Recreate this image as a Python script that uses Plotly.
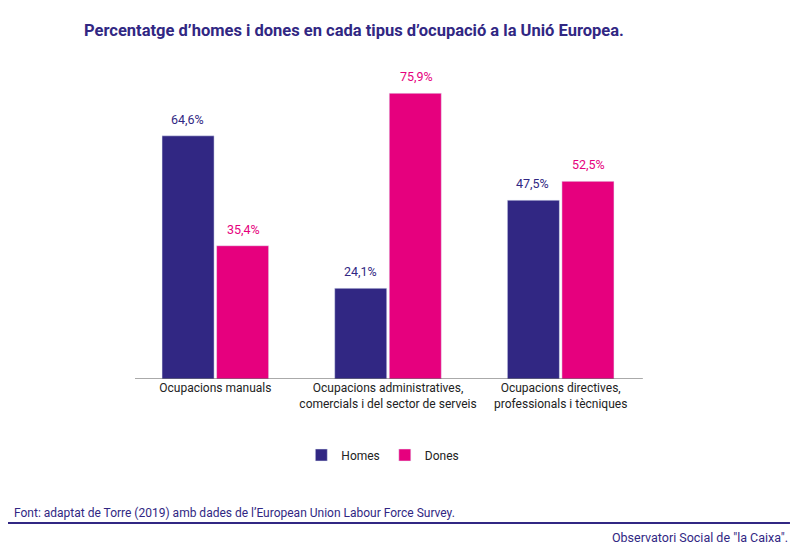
import plotly.graph_objects as go

categories = [
    "Ocupacions manuals",
    "Ocupacions administratives,<br>comercials i del sector de serveis",
    "Ocupacions directives,<br>professionals i tècniques",
]
homes = [64.6, 24.1, 47.5]
dones = [35.4, 75.9, 52.5]

INDIGO = "#312783"
PINK = "#e6007e"
FONT = "Roboto"


def pct(v):
    return f"{v:.1f}%".replace(".", ",")


fig = go.Figure()
fig.add_trace(go.Bar(x=categories, y=homes, name="Homes", marker_color=INDIGO))
fig.add_trace(go.Bar(x=categories, y=dones, name="Dones", marker_color=PINK))

# value labels above each bar
for vals, color, shift in [(homes, INDIGO, -28), (dones, PINK, 28)]:
    for cat, v in zip(categories, vals):
        fig.add_annotation(
            x=cat, y=v, text=pct(v), showarrow=False,
            xshift=shift, yshift=7, yanchor="bottom",
            font=dict(family=FONT, size=12.5, color=color),
        )

# baseline (shorter than the category band)
fig.add_shape(
    type="line", xref="paper", yref="y", x0=0.0116, x1=0.992, y0=0, y1=0,
    line=dict(color="#555555", width=1),
)

# title and footer
fig.add_annotation(
    xref="paper", yref="paper", x=-0.0907, y=1.0906, xanchor="left", yanchor="middle",
    text="<b>Percentatge d’homes i dones en cada tipus d’ocupació a la Unió Europea.</b>",
    showarrow=False, font=dict(family=FONT, size=16.5, color=INDIGO),
)
fig.add_annotation(
    xref="paper", yref="paper", x=-0.2259, y=-0.419, xanchor="left", yanchor="middle",
    text="Font: adaptat de Torre (2019) amb dades de l’European Union Labour Force Survey.",
    showarrow=False, font=dict(family=FONT, size=12, color=INDIGO),
)
fig.add_annotation(
    xref="paper", yref="paper", x=1.276, y=-0.494, xanchor="right", yanchor="middle",
    text="Observatori Social de \"la Caixa\".",
    showarrow=False, font=dict(family=FONT, size=12.5, color=INDIGO),
)
fig.add_shape(
    type="line", xref="paper", yref="paper", x0=-0.2336, x1=1.276, y0=-0.45, y1=-0.45,
    line=dict(color=INDIGO, width=2),
)

fig.update_layout(
    width=792, height=541,
    margin=dict(l=121, r=153, t=51, b=170),
    plot_bgcolor="white", paper_bgcolor="white",
    barmode="group", bargap=0.368, bargroupgap=0.046,
    font=dict(family=FONT, size=12, color="#222222"),
    showlegend=True,
    legend=dict(
        orientation="h", x=0.49, xanchor="center", y=-0.2375, yanchor="middle",
        font=dict(family=FONT, size=12, color="#222222"),
        itemwidth=30, traceorder="normal",
    ),
    xaxis=dict(
        showline=False, ticks="",
        tickfont=dict(family=FONT, size=12, color="#222222"),
    ),
    yaxis=dict(range=[0, 85], visible=False, showgrid=False),
)

fig.write_html("out.html")
